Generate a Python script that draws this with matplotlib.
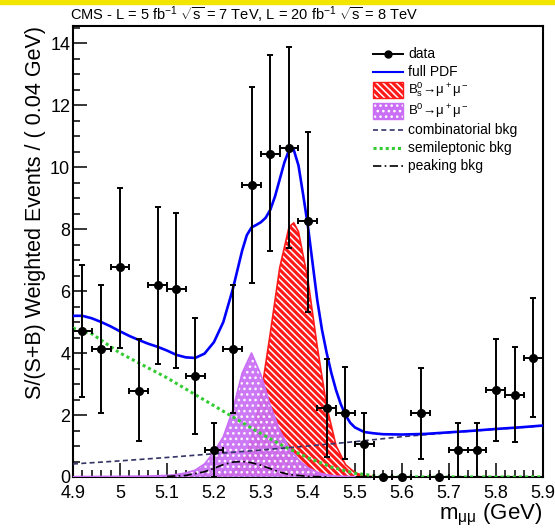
import matplotlib
matplotlib.use("Agg")
import matplotlib.pyplot as plt
from matplotlib.lines import Line2D
from matplotlib.patches import Rectangle
from matplotlib.ticker import MultipleLocator, FuncFormatter

# binned data (bin width 0.04 GeV)
bin_centers = [4.92, 4.96, 5.00, 5.04, 5.08, 5.12, 5.16, 5.20, 5.24, 5.28, 5.32, 5.36, 5.40,
               5.44, 5.48, 5.52, 5.56, 5.60, 5.64, 5.68, 5.72, 5.76, 5.80, 5.84, 5.88]
counts = [4.72, 4.12, 6.78, 2.78, 6.20, 6.05, 3.26, 0.86, 4.12, 9.41, 10.41, 10.61, 8.27,
          2.22, 2.07, 1.05, 0.0, 0.0, 2.05, 0.0, 0.87, 0.87, 2.81, 2.65, 3.85]
err_low = [2.13, 2.07, 2.61, 1.61, 2.55, 2.53, 1.86, 0.86, 2.07, 3.16, 3.13, 3.23, 2.94,
           1.56, 1.49, 1.05, 0.0, 0.0, 1.48, 0.0, 0.87, 0.87, 1.64, 1.53, 1.90]
err_high = [2.13, 2.08, 2.53, 1.66, 2.52, 2.48, 1.87, 0.87, 2.08, 3.18, 3.19, 3.27, 2.85,
            1.58, 1.47, 1.00, 0.0, 0.0, 1.48, 0.0, 0.86, 0.86, 1.65, 1.54, 1.93]
half_bin = 0.02

# fit components
pdf_x = [4.90, 4.92, 4.94, 4.96, 4.98, 5.00, 5.02, 5.04, 5.06, 5.08, 5.10, 5.12, 5.14, 5.16,
         5.18, 5.20, 5.22, 5.24, 5.26, 5.27, 5.28, 5.29, 5.30, 5.31, 5.32, 5.33, 5.34, 5.35,
         5.36, 5.365, 5.37, 5.38, 5.39, 5.40, 5.41, 5.42, 5.43, 5.44, 5.45, 5.46, 5.47, 5.48,
         5.49, 5.50, 5.52, 5.54, 5.56, 5.60, 5.65, 5.70, 5.75, 5.80, 5.85, 5.90]
pdf_y = [5.20, 5.20, 5.12, 5.00, 4.86, 4.70, 4.55, 4.42, 4.30, 4.20, 4.08, 3.94, 3.86, 3.84,
         3.98, 4.35, 5.00, 6.05, 7.30, 7.80, 8.05, 8.13, 8.22, 8.36, 8.62, 9.05, 9.60, 10.15,
         10.55, 10.62, 10.55, 10.05, 9.10, 8.10, 6.90, 5.70, 4.75, 4.00, 3.35, 2.80, 2.35, 2.00,
         1.75, 1.60, 1.45, 1.41, 1.38, 1.37, 1.39, 1.44, 1.49, 1.55, 1.60, 1.66]

bs_x = [5.20, 5.22, 5.24, 5.26, 5.28, 5.30, 5.32, 5.34, 5.36, 5.37, 5.38, 5.40, 5.42, 5.44,
        5.46, 5.48, 5.50, 5.52, 5.54]
bs_y = [0.01, 0.04, 0.14, 0.46, 1.21, 2.62, 4.64, 6.75, 8.07, 8.20, 7.91, 6.37, 4.20, 2.28,
        1.01, 0.40, 0.14, 0.04, 0.01]

bd_x = [4.90, 5.00, 5.06, 5.10, 5.12, 5.14, 5.16, 5.18, 5.20, 5.22, 5.24, 5.26, 5.28, 5.30,
        5.32, 5.34, 5.36, 5.38, 5.40, 5.42, 5.44, 5.46, 5.50]
bd_y = [0.01, 0.02, 0.03, 0.05, 0.08, 0.13, 0.22, 0.42, 0.80, 1.30, 2.15, 3.35, 4.00, 3.30,
        2.30, 1.50, 0.95, 0.55, 0.30, 0.15, 0.07, 0.03, 0.01]

comb_x = [4.90, 5.00, 5.10, 5.20, 5.30, 5.40, 5.50, 5.60, 5.70, 5.80, 5.90]
comb_y = [0.42, 0.52, 0.63, 0.75, 0.87, 1.00, 1.14, 1.30, 1.43, 1.54, 1.65]

semi_x = [4.90, 4.94, 5.00, 5.05, 5.10, 5.15, 5.20, 5.25, 5.30, 5.35, 5.40, 5.45, 5.50, 5.55,
          5.60, 5.90]
semi_y = [4.80, 4.62, 4.00, 3.60, 3.20, 2.75, 2.30, 1.85, 1.40, 0.98, 0.62, 0.32, 0.12, 0.02,
          0.0, 0.0]

peak_x = [5.10, 5.14, 5.18, 5.20, 5.22, 5.24, 5.26, 5.28, 5.30, 5.32, 5.34, 5.36, 5.40, 5.44]
peak_y = [0.02, 0.05, 0.17, 0.28, 0.40, 0.48, 0.50, 0.46, 0.38, 0.27, 0.16, 0.08, 0.02, 0.0]

legend_labels = ["data", "full PDF", "B$^0_s$→μ$^+$μ$^-$", "B$^0$→μ$^+$μ$^-$",
                 "combinatorial bkg", "semileptonic bkg", "peaking bkg"]

FONT = ["Liberation Sans", "DejaVu Sans"]
RED = "#ff1a1a"
VIOLET = "#c96ef5"
RED_HATCH = "\\\\\\\\\\"
VIOLET_HATCH = "..."

W, H = 555, 529


def px(x, y):
    """pixel position (from top-left) -> figure fraction"""
    return x / W, 1 - y / H


def draw_legend(fig):
    rows_y = [54, 72, 90, 111, 130, 148, 166]
    x0, x1, xt = 373, 403, 408
    styles = [
        dict(color="black", lw=1.4),
        dict(color="#0000ff", lw=1.5),
        None,
        None,
        dict(color="#333366", lw=1.2, ls=(0, (3, 2))),
        dict(color="#33cc33", lw=2.2, ls=(0, (1, 1))),
        dict(color="black", lw=1.2, ls=(0, (5, 2, 1, 2))),
    ]
    for i, (y, label) in enumerate(zip(rows_y, legend_labels)):
        size = 10
        if styles[i] is not None:
            (fx0, fy), (fx1, _) = px(x0, y), px(x1, y)
            fig.add_artist(Line2D([fx0, fx1], [fy, fy], transform=fig.transFigure, **styles[i]))
            if i == 0:
                fig.add_artist(Line2D([(fx0 + fx1) / 2], [fy], transform=fig.transFigure,
                                      marker="o", ms=5, color="black"))
        else:
            size = 9.5
            face, hatch = (RED, RED_HATCH) if i == 2 else (VIOLET, VIOLET_HATCH)
            bx, by = px(x0, y + 8)
            bw, bh = (x1 - x0) / W, 16 / H
            fig.patches.append(Rectangle((bx, by), bw, bh, transform=fig.transFigure,
                                         facecolor=face, edgecolor="white", hatch=hatch, lw=0))
            fig.patches.append(Rectangle((bx, by), bw, bh, transform=fig.transFigure,
                                         fill=False, edgecolor=face, lw=1))
        tx, ty = px(xt, y)
        fig.text(tx, ty, label, ha="left", va="center", fontsize=size)


def main() -> int:
    plt.rcParams["font.family"] = FONT
    plt.rcParams["mathtext.fontset"] = "custom"
    plt.rcParams["mathtext.rm"] = "Liberation Sans"
    plt.rcParams["mathtext.it"] = "Liberation Sans"
    plt.rcParams["hatch.linewidth"] = 1.1

    fig = plt.figure(figsize=(W / 100, H / 100), dpi=100)
    fig.patches.append(Rectangle((0, 0.992), 1, 0.008, transform=fig.transFigure,
                                 color="#f2e600", zorder=0))
    ax = fig.add_axes([0.1315, 0.0983, 0.8465, 0.8526])

    # signal shapes
    ax.fill_between(bs_x, 0, bs_y, facecolor=RED, edgecolor="white", hatch=RED_HATCH,
                    linewidth=0, zorder=2)
    ax.plot(bs_x, bs_y, color=RED, lw=1.2, zorder=2)
    ax.fill_between(bd_x, 0, bd_y, facecolor=VIOLET, edgecolor="white", hatch=VIOLET_HATCH,
                    linewidth=0, alpha=0.92, zorder=3)
    ax.plot(bd_x, bd_y, color=VIOLET, lw=1.2, zorder=3)

    # backgrounds
    ax.plot(comb_x, comb_y, color="#333366", lw=1.2, ls=(0, (3, 2)), zorder=4)
    ax.plot(semi_x, semi_y, color="#33cc33", lw=2.2, ls=(0, (1, 1)), zorder=4)
    ax.plot(peak_x, peak_y, color="black", lw=1.2, ls=(0, (5, 2, 1, 2)), zorder=4)

    # full pdf
    ax.plot(pdf_x, pdf_y, color="#0000ff", lw=1.9, zorder=5)

    # data
    ax.errorbar(bin_centers, counts, yerr=[err_low, err_high], xerr=half_bin, fmt="o",
                color="black", ms=5.5, lw=1.4, capsize=2.5, capthick=1.4, zorder=6,
                clip_on=False)

    ax.set_xlim(4.9, 5.9)
    ax.set_ylim(0, 14.55)
    ax.xaxis.set_major_locator(MultipleLocator(0.1))
    ax.xaxis.set_minor_locator(MultipleLocator(0.02))
    ax.yaxis.set_major_locator(MultipleLocator(2))
    ax.yaxis.set_minor_locator(MultipleLocator(0.5))
    ax.xaxis.set_major_formatter(FuncFormatter(lambda v, p: f"{v:g}"))
    ax.tick_params(which="both", direction="in", labelsize=13, width=1.1)
    ax.tick_params(axis="x", pad=6)
    ax.tick_params(axis="y", pad=2)
    ax.tick_params(which="major", length=10)
    ax.tick_params(which="minor", length=5)
    for sp in ax.spines.values():
        sp.set_linewidth(1.5)

    ax.set_xlabel(r"m$_{\mu\mu}$ (GeV)", fontsize=16, loc="right", labelpad=0)
    ax.set_ylabel("S/(S+B) Weighted Events / ( 0.04 GeV)", fontsize=15.5, loc="top",
                  labelpad=3)

    fig.text(0.44, 0.972, r"CMS - L = 5 fb$^{-1}$ $\sqrt{s}$ = 7 TeV, L = 20 fb$^{-1}$ "
             r"$\sqrt{s}$ = 8 TeV", ha="center", va="center", fontsize=10.5)

    draw_legend(fig)

    fig.savefig("out.png", dpi=100)
    plt.close(fig)
    return 0


if __name__ == "__main__":
    raise SystemExit(main())
